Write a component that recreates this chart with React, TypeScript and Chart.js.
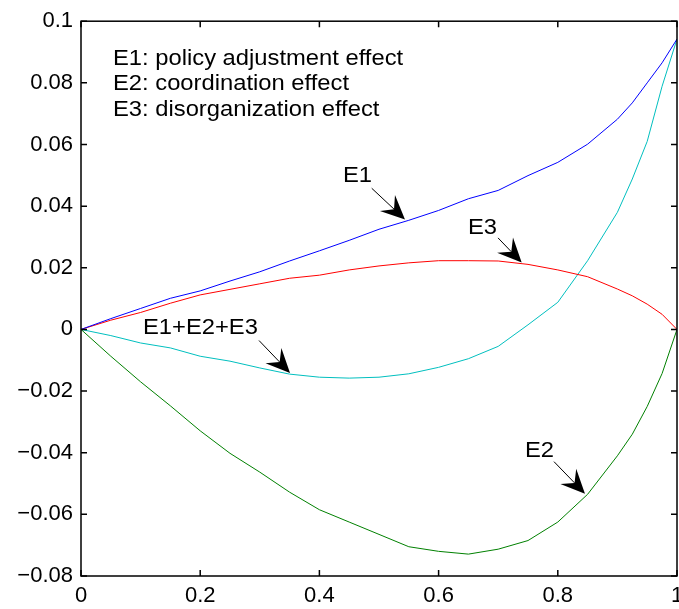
import React, { useEffect, useRef } from "react";
import { Chart, registerables } from "chart.js";

Chart.register(...registerables);

// ---- data ----
const xValues = [0, 0.05, 0.1, 0.15, 0.2, 0.25, 0.3, 0.35, 0.4, 0.45, 0.5, 0.55, 0.6, 0.65, 0.7, 0.75, 0.8, 0.85, 0.9, 0.925, 0.95, 0.975, 1];
const e1Values = [0, 0.0035, 0.0068, 0.0101, 0.0125, 0.0157, 0.0187, 0.0222, 0.0255, 0.0289, 0.0325, 0.0354, 0.0386, 0.0424, 0.0451, 0.0499, 0.0542, 0.0601, 0.0682, 0.0735, 0.08, 0.0865, 0.0942];
const e2Values = [0, -0.0087, -0.017, -0.0248, -0.0329, -0.0402, -0.0463, -0.0528, -0.0585, -0.0625, -0.0665, -0.0705, -0.072, -0.0729, -0.0713, -0.0685, -0.0625, -0.0535, -0.041, -0.034, -0.025, -0.0143, 0];
const e3Values = [0, 0.003, 0.0055, 0.0085, 0.0112, 0.013, 0.0148, 0.0166, 0.0176, 0.0193, 0.0206, 0.0216, 0.0223, 0.0223, 0.0222, 0.0211, 0.0193, 0.0171, 0.0131, 0.0109, 0.0082, 0.0049, 0];
const sumValues = [0, -0.002, -0.0044, -0.006, -0.0087, -0.0103, -0.0125, -0.0145, -0.0155, -0.0158, -0.0155, -0.0144, -0.0123, -0.0095, -0.0055, 0.0015, 0.0088, 0.0223, 0.038, 0.0488, 0.061, 0.0789, 0.0942];

const legendLines = ["E1: policy adjustment effect", "E2: coordination effect", "E3: disorganization effect"];
const legendX = 0.0537;
const legendY = [0.0858, 0.0776, 0.0694];

// annotation labels: text, text anchor (x, y baseline), arrow from -> to (data units)
const annoText = ["E1", "E3", "E1+E2+E3", "E2"];
const annoTextX = [0.4396, 0.6493, 0.104, 0.745];
const annoTextY = [0.0477, 0.031, -0.0016, -0.0413];
const arrowFromX = [0.4878, 0.6997, 0.2987, 0.7936];
const arrowFromY = [0.0458, 0.0297, -0.0036, -0.0429];
const arrowToX = [0.5436, 0.7394, 0.3507, 0.8456];
const arrowToY = [0.0357, 0.0217, -0.0141, -0.0533];

const FONT = "'Liberation Sans', Arial, Helvetica, sans-serif";

const toXY = (ys: number[]) => xValues.map((x, i) => ({ x, y: ys[i] }));

const fmt = (v: number) => {
  const s = String(Number(v.toFixed(2)));
  return s.replace("-", "\u2212");
};

const framePlugin = {
  id: "matlabFrame",
  afterDraw(chart: any) {
    const { ctx, chartArea } = chart;
    const { left, right, top, bottom } = chartArea;
    const xs = chart.scales.x;
    const ys = chart.scales.y;
    ctx.save();
    ctx.strokeStyle = "#000";
    ctx.lineWidth = 1.5;
    ctx.strokeRect(left, top, right - left, bottom - top);
    const tl = 6;
    ctx.beginPath();
    xs.ticks.forEach((t: any) => {
      const px = xs.getPixelForValue(t.value);
      ctx.moveTo(px, bottom);
      ctx.lineTo(px, bottom - tl);
      ctx.moveTo(px, top);
      ctx.lineTo(px, top + tl);
    });
    ys.ticks.forEach((t: any) => {
      const py = ys.getPixelForValue(t.value);
      ctx.moveTo(left, py);
      ctx.lineTo(left + tl, py);
      ctx.moveTo(right, py);
      ctx.lineTo(right - tl, py);
    });
    ctx.stroke();

    // texts
    ctx.fillStyle = "#000";
    ctx.font = `22px ${FONT}`;
    ctx.textBaseline = "alphabetic";
    ctx.textAlign = "left";
    const drawText = (text: string, px: number, py: number) => {
      ctx.save();
      ctx.translate(px, py);
      ctx.scale(1.08, 1);
      ctx.fillText(text, 0, 0);
      ctx.restore();
    };
    legendLines.forEach((t, i) => {
      drawText(t, xs.getPixelForValue(legendX), ys.getPixelForValue(legendY[i]));
    });
    annoText.forEach((t, i) => {
      drawText(t, xs.getPixelForValue(annoTextX[i]), ys.getPixelForValue(annoTextY[i]));
      const x0 = xs.getPixelForValue(arrowFromX[i]);
      const y0 = ys.getPixelForValue(arrowFromY[i]);
      const x1 = xs.getPixelForValue(arrowToX[i]);
      const y1 = ys.getPixelForValue(arrowToY[i]);
      const dx = x1 - x0;
      const dy = y1 - y0;
      const len = Math.hypot(dx, dy);
      const ux = dx / len;
      const uy = dy / len;
      const nx = -uy;
      const ny = ux;
      const L = 24;
      const W = 11;
      const notch = 15;
      ctx.lineWidth = 1;
      ctx.beginPath();
      ctx.moveTo(x0, y0);
      ctx.lineTo(x1 - ux * notch, y1 - uy * notch);
      ctx.stroke();
      ctx.beginPath();
      ctx.moveTo(x1, y1);
      ctx.lineTo(x1 - ux * L + nx * W, y1 - uy * L + ny * W);
      ctx.lineTo(x1 - ux * notch, y1 - uy * notch);
      ctx.lineTo(x1 - ux * L - nx * W, y1 - uy * L - ny * W);
      ctx.closePath();
      ctx.fill();
    });
    ctx.restore();
  },
};

export default function App() {
  const canvasRef = useRef<HTMLCanvasElement | null>(null);

  useEffect(() => {
    const canvas = canvasRef.current;
    if (!canvas) return;
    const chart = new Chart(canvas, {
      type: "line",
      data: {
        datasets: [
          { label: "E1", data: toXY(e1Values), borderColor: "#0000ff", borderWidth: 1, pointRadius: 0, tension: 0, fill: false },
          { label: "E2", data: toXY(e2Values), borderColor: "#008000", borderWidth: 1, pointRadius: 0, tension: 0, fill: false },
          { label: "E3", data: toXY(e3Values), borderColor: "#ff0000", borderWidth: 1, pointRadius: 0, tension: 0, fill: false },
          { label: "E1+E2+E3", data: toXY(sumValues), borderColor: "#00bfbf", borderWidth: 1, pointRadius: 0, tension: 0, fill: false },
        ],
      },
      options: {
        animation: false,
        responsive: false,
        maintainAspectRatio: false,
        layout: { padding: { top: 18, right: 2, bottom: 0, left: 0 } },
        plugins: { legend: { display: false }, tooltip: { enabled: false } },
        scales: {
          x: {
            type: "linear",
            min: 0,
            max: 1,
            grid: { display: false, drawTicks: false },
            border: { display: false },
            ticks: {
              stepSize: 0.2,
              padding: 7,
              color: "#000",
              font: { family: FONT, size: 22 },
              maxRotation: 0,
              callback: (v: any) => fmt(Number(v)),
            },
            afterFit: (s: any) => {
              s.height = 33;
              s.paddingLeft = 0;
              s.paddingRight = 0;
            },
          },
          y: {
            type: "linear",
            min: -0.08,
            max: 0.1,
            grid: { display: false, drawTicks: false },
            border: { display: false },
            ticks: {
              stepSize: 0.02,
              padding: 8,
              color: "#000",
              font: { family: FONT, size: 22 },
              callback: (v: any) => fmt(Number(v)),
            },
            afterFit: (s: any) => {
              s.width = 81;
            },
          },
        },
      },
      plugins: [framePlugin],
    } as any);
    return () => chart.destroy();
  }, []);

  return (
    <div style={{ position: "absolute", left: 0, top: 0, width: 679, height: 609, background: "#fff" }}>
      <canvas ref={canvasRef} width={679} height={609} style={{ display: "block" }} />
    </div>
  );
}
